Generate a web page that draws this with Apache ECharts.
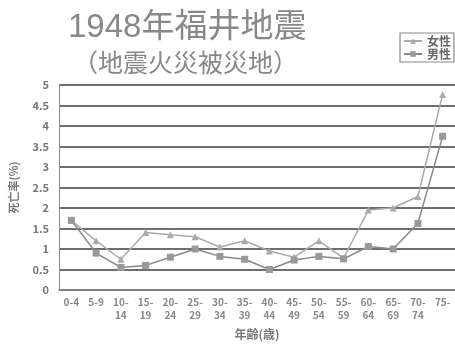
<!DOCTYPE html>
<html><head><meta charset="utf-8">
<script src="https://cdn.jsdelivr.net/npm/echarts@6/dist/echarts.min.js"></script>
<style>html,body{margin:0;padding:0;background:#fff}#c{width:455px;height:347px}</style>
</head><body><div id="c"></div>
<script>
const categories = ['0-4','5-9','10-\n14','15-\n19','20-\n24','25-\n29','30-\n34','35-\n39','40-\n44','45-\n49','50-\n54','55-\n59','60-\n64','65-\n69','70-\n74','75-'];
const female = [1.7,1.2,0.75,1.4,1.35,1.3,1.05,1.2,0.95,0.8,1.2,0.78,1.95,2.0,2.28,4.77];
const male = [1.7,0.9,0.55,0.6,0.8,1.0,0.82,0.75,0.5,0.73,0.82,0.76,1.06,1.0,1.62,3.75];
const yTicks = [0,0.5,1,1.5,2,2.5,3,3.5,4,4.5,5];
const font = '"Noto Sans CJK JP", sans-serif';
const titleFont = '"Liberation Sans", "Noto Sans CJK JP", sans-serif';
const chart = echarts.init(document.getElementById('c'));
chart.setOption({
  animation:false,
  backgroundColor:'#fff',
  title:[
    {text:'1948年福井地震',left:63,top:6,textStyle:{fontFamily:titleFont,fontSize:33,fontWeight:'normal',color:'#888'}},
    {text:'（地震火災被災地）',left:68,top:45,textStyle:{fontFamily:font,fontSize:25,fontWeight:'normal',color:'#888'}}
  ],
  legend:{
    right:1,top:33,orient:'vertical',itemGap:1,itemWidth:18,itemHeight:7,
    borderColor:'#888',borderWidth:1.2,padding:[2,3,2,3],
    textStyle:{fontFamily:font,fontSize:12,fontWeight:'bold',color:'#666'},
    data:['女性','男性']
  },
  grid:{left:58,right:-2,top:85,bottom:57,containLabel:false},
  xAxis:{
    type:'category',data:categories,boundaryGap:true,
    name:'年齢(歳)',nameLocation:'middle',nameGap:38,
    nameTextStyle:{fontFamily:font,fontSize:12,fontWeight:'bold',color:'#777'},
    axisLine:{lineStyle:{color:'#888',width:1.5}},
    axisTick:{inside:true,length:3,lineStyle:{color:'#888'}},
    axisLabel:{fontFamily:font,fontSize:10,fontWeight:'bold',color:'#888',interval:0,lineHeight:13,margin:6}
  },
  yAxis:{
    type:'value',min:0,max:5,interval:0.5,
    name:'死亡率(%)',nameLocation:'middle',nameGap:40,nameRotate:90,
    nameTextStyle:{fontFamily:font,fontSize:11,fontWeight:'bold',color:'#777'},
    axisLine:{show:true,lineStyle:{color:'#888'}},
    axisTick:{show:false},
    axisLabel:{fontFamily:font,fontSize:11,fontWeight:'bold',color:'#777',margin:10,
      formatter:v=>yTicks.includes(v)?String(v):''},
    splitLine:{lineStyle:{color:'#6e6e6e',width:1.8}}
  },
  series:[
    {name:'女性',type:'line',data:female,symbol:'triangle',symbolSize:7,
     lineStyle:{color:'#aaa',width:1.5},itemStyle:{color:'#aaa'}},
    {name:'男性',type:'line',data:male,symbol:'rect',symbolSize:7,
     lineStyle:{color:'#888',width:1.5},itemStyle:{color:'#999'}}
  ]
});
</script></body></html>
